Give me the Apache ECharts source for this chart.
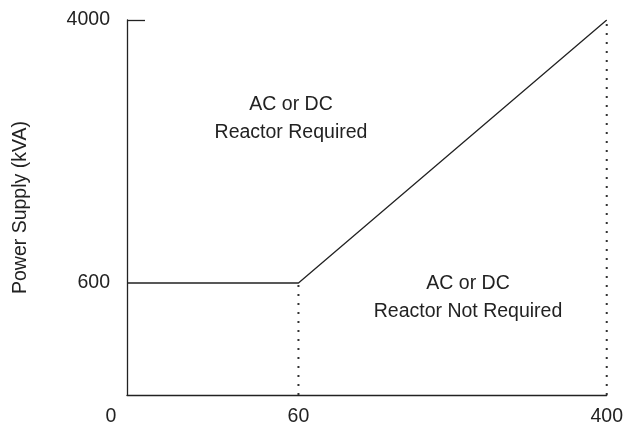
<!DOCTYPE html>
<html>
<head>
<meta charset="utf-8">
<script src="https://cdn.jsdelivr.net/npm/echarts@6/dist/echarts.min.js"></script>
<style>
html,body{margin:0;padding:0;background:#fff;}
#chart{width:626px;height:427px;}
</style>
</head>
<body>
<div id="chart"></div>
<script>
// ---- data ----
const xTickValues = [0, 60, 400];
const yTickValues = [600, 4000];
const boundaryX = [0, 60, 400];
const boundaryY = [600, 600, 4000];
const dividerX = [60, 400];
const dividerTopY = [600, 4000];
const regionLabels = ['AC or DC\nReactor Required', 'AC or DC\nReactor Not Required'];
const yTitle = 'Power Supply (kVA)';

// schematic (piecewise) scale: breakpoints and their relative positions on the axis
const xStops = [0, 60, 400], xFracs = [0, 0.3574, 1];
const yStops = [0, 600, 4000], yFracs = [0, 0.2987, 1];
function pw(v, stops, fracs) {
  for (let i = 1; i < stops.length; i++) {
    if (v <= stops[i]) {
      const t = (v - stops[i-1]) / (stops[i] - stops[i-1]);
      return fracs[i-1] + t * (fracs[i] - fracs[i-1]);
    }
  }
  return fracs[fracs.length-1];
}
function inv(p, stops, fracs) {
  for (let i = 1; i < fracs.length; i++) {
    if (p <= fracs[i] + 1e-9) {
      const t = (p - fracs[i-1]) / (fracs[i] - fracs[i-1]);
      return Math.round(stops[i-1] + t * (stops[i] - stops[i-1]));
    }
  }
  return stops[stops.length-1];
}
const mx = v => pw(v, xStops, xFracs);
const my = v => pw(v, yStops, yFracs);

const ink = '#222';
const font = 'Liberation Sans, Arial, sans-serif';
const fs = 19.5;

const chart = echarts.init(document.getElementById('chart'));
const series = [{
  type: 'line',
  data: boundaryX.map((x, i) => [mx(x), my(boundaryY[i])]),
  symbol: 'none',
  lineStyle: { color: ink, width: 1.3 },
  silent: true, z: 3
}];
dividerX.forEach((x, i) => {
  series.push({
    type: 'line',
    data: [[mx(x), my(0)], [mx(x), my(dividerTopY[i])]],
    symbol: 'none',
    lineStyle: { color: '#333', width: 2, type: [2, 7] },
    silent: true, z: 2
  });
});

chart.setOption({
  animation: false,
  grid: { left: 127, right: 15, top: 20, bottom: 32 },
  xAxis: {
    type: 'value', min: 0, max: 1,
    splitLine: { show: false },
    axisLine: { show: true, lineStyle: { color: ink, width: 1.3 } },
    axisTick: { show: false },
    axisLabel: {
      customValues: xTickValues.map(mx),
      margin: 12,
      color: ink, fontSize: fs, fontFamily: font,
      formatter: v => {
        const n = inv(v, xStops, xFracs);
        return n === 0 ? '{z|0}' : String(n);
      },
      rich: { z: { padding: [0, 32, 0, 0], fontSize: fs, fontFamily: font, color: ink } }
    }
  },
  yAxis: {
    type: 'value', min: 0, max: 1,
    splitLine: { show: false },
    axisLine: { show: true, lineStyle: { color: ink, width: 1.3 } },
    axisTick: { show: true, inside: true, length: 18, customValues: [my(4000)], lineStyle: { color: ink, width: 1.3 } },
    axisLabel: {
      customValues: yTickValues.map(my),
      margin: 17,
      color: ink, fontSize: fs, fontFamily: font,
      formatter: v => String(inv(v, yStops, yFracs))
    },
    name: yTitle,
    nameLocation: 'middle',
    nameRotate: 90,
    nameGap: 96,
    nameTextStyle: { color: ink, fontSize: fs, fontFamily: font }
  },
  graphic: [
    { type: 'text', x: 291, y: 91, style: { text: regionLabels[0], textAlign: 'center', fill: ink, fontSize: fs, fontFamily: font, lineHeight: 28 } },
    { type: 'text', x: 468, y: 270, style: { text: regionLabels[1], textAlign: 'center', fill: ink, fontSize: fs, fontFamily: font, lineHeight: 28 } }
  ],
  series: series
});
</script>
</body>
</html>
